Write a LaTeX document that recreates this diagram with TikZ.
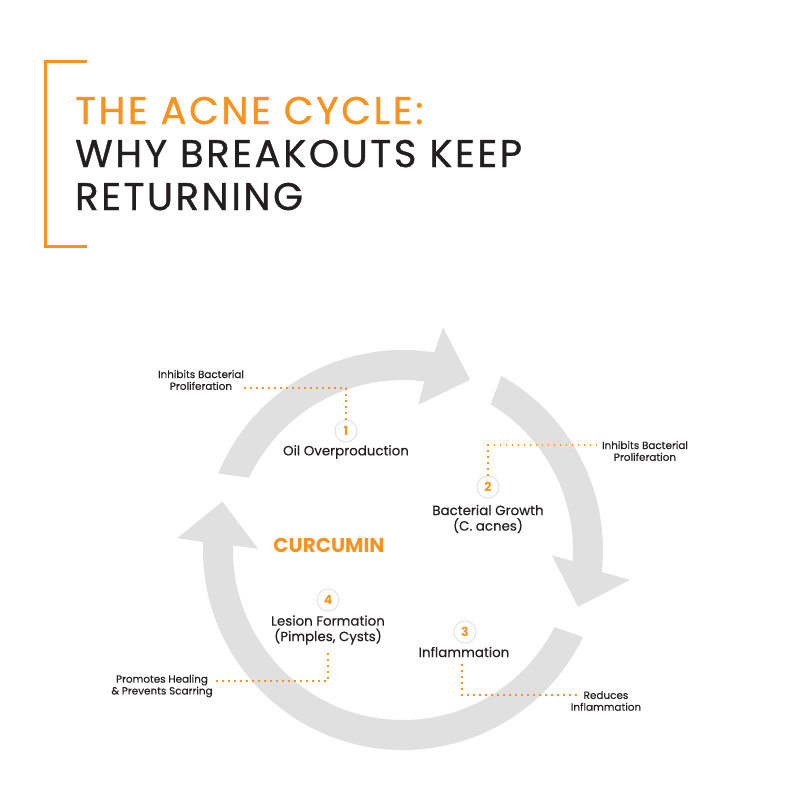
\documentclass[tikz,border=0pt]{standalone}
\usepackage{fontspec}
\setmainfont{Poppins}
\newfontfamily\titlefont[FakeBold=0.9, LetterSpace=6.8]{Poppins}
\newfontfamily\labelfont[FakeBold=0.3]{Poppins}
\usetikzlibrary{calc}
\definecolor{acneorange}{HTML}{F7931E}
\definecolor{ringgray}{HTML}{E0E0E0}
\definecolor{circgray}{HTML}{E2E2E2}
\definecolor{textdark}{HTML}{231F20}
\begin{document}
\begin{tikzpicture}[x=1pt,y=1pt,
  ring/.style={fill=ringgray},
  titleline/.style={anchor=base west, inner sep=0pt, font=\titlefont\fontsize{38.5}{38.5}\selectfont},
  stepname/.style={align=center, inner sep=0pt, text=textdark, font=\labelfont\fontsize{13.4}{15.5}\selectfont},
  numcirc/.style={circle, draw=circgray, line width=1pt, fill=white, minimum size=22pt, inner sep=0pt, text=acneorange, font=\fontsize{12.5}{12.5}\selectfont\bfseries},
  effect/.style={align=center, inner sep=0pt, text=textdark, font=\labelfont\fontsize{10.4}{11.8}\selectfont},
  dotline/.style={draw=acneorange, line width=1.8pt, dash pattern=on 1.8pt off 4.2pt},
  bracket/.style={draw=acneorange, line width=3pt}
]
\useasboundingbox (0,0) rectangle (800,-812);
\fill[white] (0,0) rectangle (800,-812);

% title bracket
\coordinate (bt) at (87,-61);
\coordinate (bb) at (87,-246);
\draw[bracket] (bt) -- (45,-61) -- (45,-246) -- (bb);

% title
\node[titleline, text=acneorange] (t1) at (75,-124) {THE ACNE CYCLE:};
\node[titleline, text=textdark] (t2) at (75,-167) {WHY BREAKOUTS KEEP};
\node[titleline, text=textdark] (t3) at (75,-210) {RETURNING};

% cycle arrows
\begin{scope}[shift={(403,-550)}]
  % top arrow
  \fill[ring] (157.5:200) arc[start angle=157.5, end angle=81, radius=200]
     -- (79.8:226) -- (68.5:183) -- (84:146) -- (82.8:170)
     arc[start angle=82.8, end angle=154.8, radius=170] -- cycle;
  % right arrow
  \fill[ring] (60.5:200) arc[start angle=60.5, end angle=-6.3, radius=200]
     -- (-7.5:229) -- (-18:184) -- (-2:149) -- (-3.8:170)
     arc[start angle=-3.8, end angle=59, radius=170] -- cycle;
  % bottom-left arrow
  \fill[ring] (-25.8:200) arc[start angle=-25.8, end angle=-182.3, radius=200]
     -- (-183:226) -- (-195:187) -- (-180.5:145) -- (-181.5:170)
     arc[start angle=-181.5, end angle=-27, radius=170] -- cycle;
\end{scope}

% step 1
\node[numcirc] (n1) at (346,-431) {1};
\node[stepname] (s1) at (346,-452) {Oil Overproduction};
\coordinate (k1) at (346,-388);
\coordinate (e1) at (240,-388);
\node[effect] (a1) at (201,-380) {Inhibits Bacterial\\Proliferation};
\draw[dotline] (n1.north) -- (k1) -- (e1);

% step 2
\node[numcirc] (n2) at (488,-487) {2};
\node[stepname] (s2) at (488,-519) {Bacterial Growth\\(C. acnes)};
\coordinate (k2) at (488,-445);
\coordinate (e2) at (598,-445);
\node[effect] (a2) at (645,-451) {Inhibits Bacterial\\Proliferation};
\draw[dotline] (n2.north) -- (k2) -- (e2);

% step 3
\node[numcirc] (n3) at (465,-632) {3};
\node[stepname] (s3) at (464,-652) {Inflammation};
\coordinate (k3) at (462,-695);
\coordinate (e3) at (578,-695);
\node[effect] (a3) at (606,-701) {Reduces\\Inflammation};
\draw[dotline] (s3.south -| k3) ++(0,-7) -- (k3) -- (e3);

% step 4
\node[numcirc] (n4) at (328,-600) {4};
\node[stepname] (s4) at (328,-630) {Lesion Formation\\(Pimples, Cysts)};
\coordinate (k4) at (328,-681);
\coordinate (e4) at (213,-681);
\node[effect] (a4) at (162,-686) {Promotes Healing\\\& Prevents Scarring};
\draw[dotline] ($(s4.south)+(0,-8)$) -- (k4) -- (e4);

% center label
\node[inner sep=0pt, text=acneorange, font=\fontsize{20}{20}\selectfont\bfseries] (cur) at (329,-545) {CURCUMIN};
\end{tikzpicture}
\end{document}
